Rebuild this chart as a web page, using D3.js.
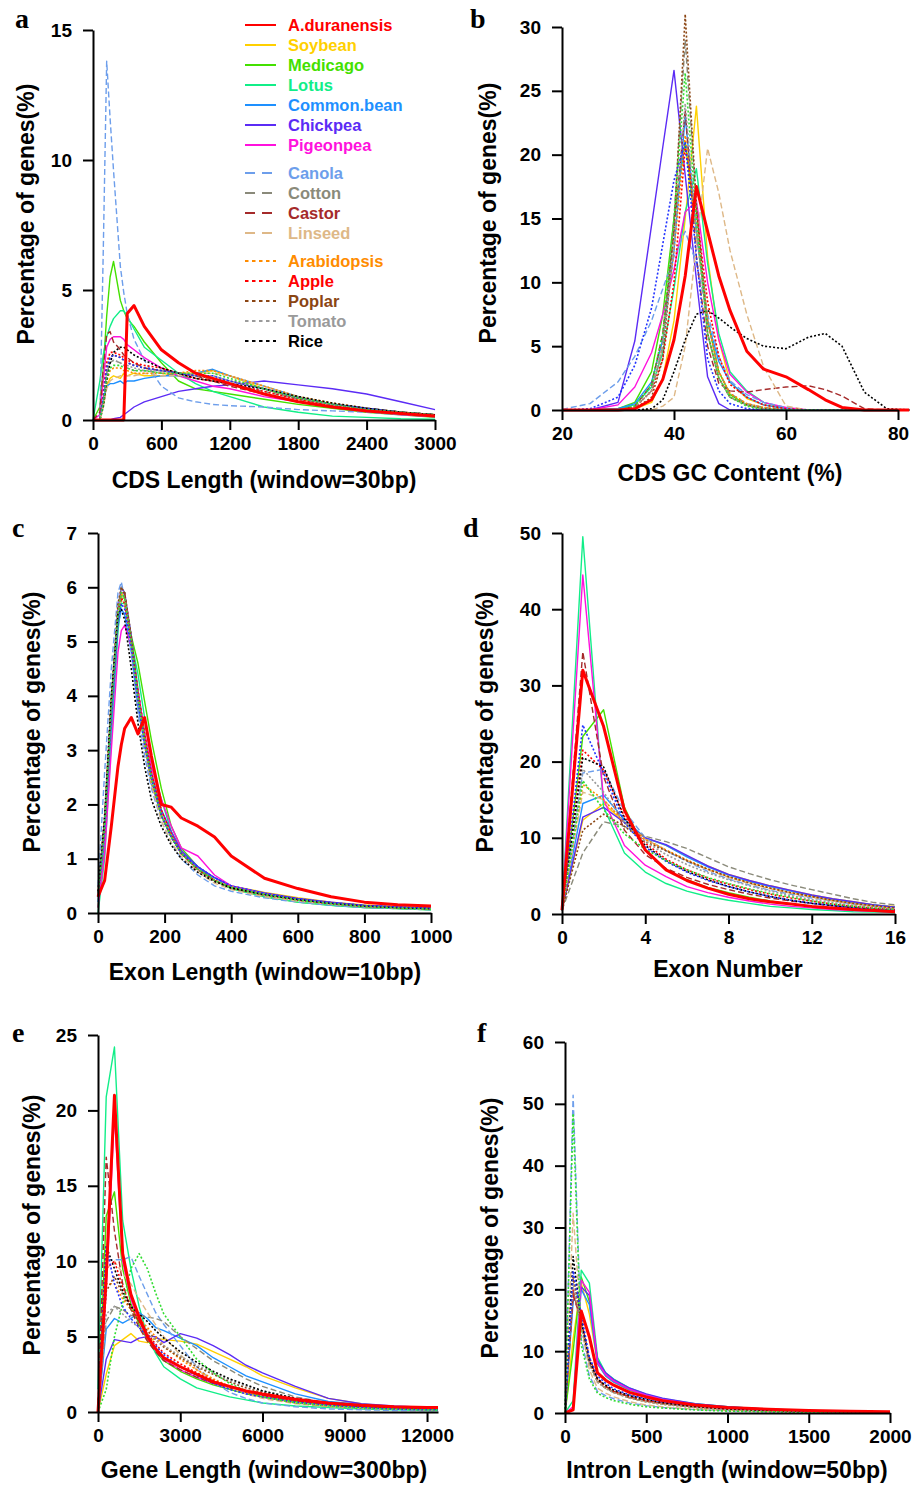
<!DOCTYPE html>
<html>
<head>
<meta charset="utf-8">
<script src="https://cdn.jsdelivr.net/npm/d3@7"></script>
<style>
    body { margin: 0; background: #fff; }
    svg text { font-family: "Liberation Sans", Arial, sans-serif; }
</style>
</head>
<body>
<svg id="chart" width="915" height="1487"></svg>
<script>
(function () {
    'use strict';

    var species = ["A.duranensis", "Soybean", "Medicago", "Lotus", "Common.bean", "Chickpea", "Pigeonpea",
        "Canola", "Cotton", "Castor", "Linseed",
        "Arabidopsis", "Apple", "Poplar", "Tomato", "Rice"];
    // two more dotted curves appear in the plots without a legend entry
    var extraSeries = ["blue dotted", "green dotted"];
    var allSeries = species.concat(extraSeries);
    var seriesColor = ["#ff0000", "#ffd000", "#44e000", "#11ee88", "#1e90ff", "#5b2bf5", "#ff11dd",
        "#6d9eeb", "#8a8a7a", "#a52a2a", "#deb887",
        "#ff8c00", "#ff0000", "#8b4513", "#9a9a9a", "#000000",
        "#2233ff", "#33dd33"];
    var seriesStyle = ["solid", "solid", "solid", "solid", "solid", "solid", "solid",
        "dash", "dash", "dash", "dash",
        "dot", "dot", "dot", "dot", "dot", "dot", "dot"];

    // a: CDS length
    var cdsLenX = [0, 60, 90, 120, 150, 180, 240, 270, 300, 360, 450, 600, 750, 900, 1050, 1200, 1500, 1800, 2100, 2400, 2700, 3000];
    var cdsLenY = [
        [0, 0, 0, 0, 0, 0, 0, 0, 4.1, 4.4, 3.6, 2.7, 2.2, 1.8, 1.6, 1.4, 1.0, 0.7, 0.5, 0.35, 0.25, 0.15],
        [0, 0, 0.6, 1.3, 1.6, 1.7, 1.6, 1.8, 1.7, 1.8, 1.7, 1.7, 1.8, 1.8, 1.9, 1.7, 1.2, 0.8, 0.6, 0.45, 0.3, 0.2],
        [0, 0.5, 2.0, 4.0, 5.5, 6.1, 4.6, 4.2, 3.9, 3.6, 3.0, 2.2, 1.5, 1.2, 1.1, 1.0, 0.8, 0.6, 0.45, 0.3, 0.2, 0.1],
        [0, 1.5, 2.5, 3.2, 3.6, 3.9, 4.2, 4.2, 4.0, 3.5, 2.8, 2.3, 1.8, 1.4, 1.1, 0.9, 0.5, 0.3, 0.15, 0.1, 0.05, 0.03],
        [0, 0, 0.8, 1.3, 1.4, 1.4, 1.5, 1.4, 1.5, 1.5, 1.6, 1.7, 1.7, 1.8, 1.95, 1.7, 1.3, 0.9, 0.6, 0.45, 0.3, 0.2],
        [0, 0, 0, 0, 0, 0.05, 0.1, 0.2, 0.3, 0.5, 0.7, 0.9, 1.1, 1.2, 1.3, 1.35, 1.5, 1.35, 1.2, 1.0, 0.7, 0.4],
        [0, 0.2, 1.5, 2.8, 3.1, 3.2, 3.2, 3.1, 2.9, 2.7, 2.4, 2.0, 1.7, 1.5, 1.3, 1.2, 0.9, 0.7, 0.5, 0.35, 0.2, 0.12],
        [0, 0, 6.5, 13.8, 11.6, 9.6, 5.9, 4.9, 4.1, 3.1, 2.3, 1.3, 0.85, 0.7, 0.6, 0.55, 0.5, 0.4, 0.35, 0.3, 0.2, 0.15],
        [0, 0, 0.8, 1.8, 2.2, 2.3, 2.2, 2.1, 2.0, 1.9, 1.9, 1.8, 1.7, 1.6, 1.5, 1.4, 1.1, 0.8, 0.55, 0.4, 0.3, 0.2],
        [0, 0.3, 2.0, 3.3, 3.4, 3.0, 2.7, 2.5, 2.4, 2.2, 2.0, 1.9, 1.8, 1.7, 1.5, 1.3, 1.0, 0.7, 0.5, 0.35, 0.25, 0.15],
        [0, 0, 0.5, 1.2, 1.5, 1.6, 1.7, 1.7, 1.7, 1.7, 1.8, 1.7, 1.7, 1.8, 1.8, 1.7, 1.3, 0.9, 0.6, 0.45, 0.3, 0.2],
        [0, 0, 0.6, 1.5, 1.9, 2.0, 2.0, 1.9, 1.9, 1.8, 1.8, 1.8, 1.8, 1.9, 1.9, 1.7, 1.3, 0.9, 0.65, 0.45, 0.3, 0.2],
        [0, 0, 1.0, 2.2, 2.6, 2.6, 2.5, 2.4, 2.3, 2.2, 2.1, 2.0, 1.8, 1.6, 1.5, 1.4, 1.1, 0.8, 0.55, 0.4, 0.3, 0.2],
        [0, 0, 0.8, 2.0, 2.4, 2.5, 2.4, 2.3, 2.2, 2.1, 2.0, 1.9, 1.8, 1.7, 1.6, 1.5, 1.2, 0.85, 0.6, 0.45, 0.3, 0.2],
        [0, 0, 0.7, 1.8, 2.2, 2.3, 2.2, 2.1, 2.1, 2.0, 1.9, 1.9, 1.8, 1.7, 1.7, 1.5, 1.2, 0.85, 0.6, 0.45, 0.3, 0.2],
        [0, 0, 0.5, 1.5, 2.2, 2.6, 2.8, 2.8, 2.7, 2.5, 2.3, 2.0, 1.8, 1.6, 1.5, 1.4, 1.2, 0.9, 0.65, 0.45, 0.3, 0.2],
        [0, 0, 0.8, 2.0, 2.4, 2.5, 2.4, 2.3, 2.2, 2.1, 2.0, 1.9, 1.8, 1.7, 1.7, 1.5, 1.2, 0.85, 0.6, 0.45, 0.3, 0.2],
        [0, 0, 0.6, 1.6, 2.0, 2.1, 2.1, 2.0, 2.0, 1.9, 1.9, 1.8, 1.8, 1.8, 1.8, 1.6, 1.2, 0.85, 0.6, 0.4, 0.3, 0.2]
    ];

    // b: CDS GC content
    var gcX = [20, 25, 30, 33, 36, 38, 40, 42, 44, 46, 48, 50, 53, 56, 60, 64, 67, 70, 74, 78, 82];
    var gcY = [
        [0, 0, 0, 0.1, 0.8, 2.4, 5.5, 10.5, 17.5, 14.0, 10.5, 7.8, 4.6, 3.2, 2.6, 1.6, 0.8, 0.2, 0, 0, 0],
        [0, 0, 0, 0.1, 0.6, 2.5, 7, 15, 23.8, 12, 5.5, 2.2, 0.9, 0.4, 0.1, 0, 0, 0, 0, 0, 0],
        [0, 0, 0.1, 0.6, 3, 7.5, 15, 21, 14, 7, 3, 1.2, 0.4, 0.1, 0, 0, 0, 0, 0, 0, 0],
        [0, 0, 0.1, 0.4, 1.8, 4.5, 9.5, 15.5, 18.9, 11.5, 6, 3, 1.5, 0.6, 0.1, 0, 0, 0, 0, 0, 0],
        [0, 0, 0.1, 0.5, 2.2, 5.5, 12.5, 23, 14, 7, 3.8, 2.2, 1, 0.4, 0.1, 0, 0, 0, 0, 0, 0],
        [0, 0, 0.6, 5.4, 14.5, 20.6, 26.6, 18.4, 10.2, 2.6, 0.5, 0, 0, 0, 0, 0, 0, 0, 0, 0, 0],
        [0, 0, 0.4, 1.8, 4.5, 7.5, 11, 15.5, 16.4, 10, 5.5, 2.8, 1.4, 0.6, 0.2, 0, 0, 0, 0, 0, 0],
        [0.05, 0.5, 2.2, 4.2, 7, 9.5, 12, 14, 11.5, 7.5, 4.2, 2.3, 1.2, 0.6, 0.2, 0, 0, 0, 0, 0, 0],
        [0, 0, 0, 0.2, 1.5, 5, 15, 29, 16, 7, 3, 1.3, 0.5, 0.2, 0, 0, 0, 0, 0, 0, 0],
        [0, 0, 0, 0.3, 2, 6, 14, 23.5, 12, 5, 2.1, 1.5, 1.4, 1.6, 1.8, 1.9, 1.6, 1.1, 0.1, 0, 0],
        [0, 0, 0, 0, 0, 0.3, 1, 5, 13, 20.5, 17, 12.5, 7.5, 3.4, 0.3, 0, 0, 0, 0, 0, 0],
        [0, 0, 0, 0.2, 1.5, 5, 12.5, 21.5, 14, 7, 3, 1.3, 0.5, 0.2, 0, 0, 0, 0, 0, 0, 0],
        [0, 0, 0, 0.2, 1.5, 4, 10, 20.5, 15.5, 8.5, 4.2, 2, 1, 0.4, 0.1, 0, 0, 0, 0, 0, 0],
        [0, 0, 0, 0.1, 1, 4, 14, 31, 16, 6, 2.5, 1, 0.4, 0.1, 0, 0, 0, 0, 0, 0, 0],
        [0, 0, 0, 0.2, 1.5, 5, 13, 24, 14, 6, 2.5, 1, 0.4, 0.1, 0, 0, 0, 0, 0, 0, 0],
        [0, 0, 0, 0, 0.1, 0.8, 3, 5.5, 7.5, 7.8, 7.2, 6.5, 5.6, 5.0, 4.8, 5.7, 6.0, 5.0, 1.4, 0.1, 0],
        [0, 0.1, 1, 3.5, 8, 13, 18, 21, 12, 4, 1.5, 0.5, 0.1, 0, 0, 0, 0, 0, 0, 0, 0],
        [0, 0, 0, 0.3, 2, 6, 15, 26.4, 15, 6, 2.5, 1, 0.3, 0, 0, 0, 0, 0, 0, 0, 0]
    ];

    // c: exon length
    var exonLenX = [0, 20, 40, 60, 70, 80, 100, 120, 140, 160, 190, 220, 250, 300, 350, 400, 500, 600, 700, 800, 900, 1000];
    var exonLenY = [
        [0.3, 0.6, 1.6, 2.7, 3.1, 3.4, 3.6, 3.3, 3.6, 2.9, 2.0, 1.95, 1.75, 1.6, 1.4, 1.05, 0.64, 0.45, 0.3, 0.2, 0.15, 0.13],
        [0.3, 1.5, 3.7, 5.4, 5.9, 5.8, 5.0, 4.1, 3.3, 2.6, 1.9, 1.45, 1.15, 0.85, 0.65, 0.5, 0.38, 0.28, 0.2, 0.15, 0.12, 0.1],
        [0.1, 1.2, 3.4, 5.3, 5.8, 5.8, 5.1, 4.6, 3.9, 3.2, 2.3, 1.6, 1.2, 0.85, 0.6, 0.45, 0.3, 0.2, 0.14, 0.1, 0.08, 0.06],
        [0, 1.0, 3.2, 5.2, 5.7, 5.7, 5.0, 4.4, 3.6, 2.8, 2.1, 1.5, 1.15, 0.85, 0.6, 0.45, 0.3, 0.2, 0.14, 0.1, 0.08, 0.06],
        [0.2, 1.4, 3.5, 5.3, 5.6, 5.5, 4.8, 3.8, 3.1, 2.4, 1.8, 1.4, 1.1, 0.85, 0.65, 0.5, 0.36, 0.26, 0.19, 0.14, 0.11, 0.09],
        [0.3, 1.6, 3.8, 5.6, 6.0, 5.9, 5.1, 4.1, 3.3, 2.6, 1.9, 1.5, 1.15, 0.85, 0.65, 0.5, 0.37, 0.27, 0.2, 0.14, 0.11, 0.09],
        [0.1, 1.1, 3.0, 4.8, 5.2, 5.3, 4.9, 4.1, 3.3, 2.7, 2.1, 1.6, 1.2, 1.05, 0.7, 0.5, 0.35, 0.25, 0.18, 0.13, 0.1, 0.08],
        [0.5, 2.6, 4.5, 5.9, 6.1, 5.8, 4.8, 3.7, 2.9, 2.3, 1.7, 1.3, 1.0, 0.7, 0.5, 0.4, 0.28, 0.2, 0.14, 0.1, 0.08, 0.06],
        [0.3, 1.7, 3.9, 5.6, 6.0, 5.9, 5.0, 4.0, 3.2, 2.5, 1.8, 1.4, 1.1, 0.8, 0.6, 0.48, 0.35, 0.25, 0.18, 0.13, 0.1, 0.08],
        [0.3, 1.6, 3.8, 5.5, 5.9, 5.9, 5.0, 4.0, 3.2, 2.5, 1.8, 1.4, 1.1, 0.8, 0.6, 0.47, 0.34, 0.24, 0.17, 0.12, 0.1, 0.08],
        [0.4, 1.8, 3.9, 5.5, 5.8, 5.7, 4.9, 3.9, 3.1, 2.4, 1.7, 1.3, 1.05, 0.75, 0.55, 0.43, 0.3, 0.22, 0.16, 0.12, 0.09, 0.07],
        [0.3, 1.7, 3.9, 5.6, 5.9, 5.8, 5.0, 4.0, 3.1, 2.4, 1.8, 1.4, 1.1, 0.8, 0.6, 0.48, 0.35, 0.25, 0.18, 0.13, 0.1, 0.08],
        [0.3, 1.5, 3.7, 5.4, 5.8, 5.7, 5.0, 4.1, 3.3, 2.6, 1.9, 1.45, 1.1, 0.8, 0.6, 0.46, 0.33, 0.24, 0.17, 0.12, 0.1, 0.08],
        [0.3, 1.7, 3.9, 5.7, 6.0, 5.9, 5.1, 4.0, 3.2, 2.5, 1.8, 1.4, 1.1, 0.8, 0.6, 0.47, 0.34, 0.25, 0.18, 0.13, 0.1, 0.08],
        [0.3, 1.6, 3.8, 5.5, 5.9, 5.8, 5.0, 4.0, 3.2, 2.5, 1.8, 1.4, 1.1, 0.8, 0.6, 0.47, 0.34, 0.24, 0.17, 0.12, 0.1, 0.08],
        [0.4, 1.8, 4.0, 5.5, 5.6, 5.4, 4.5, 3.5, 2.7, 2.1, 1.6, 1.25, 1.0, 0.75, 0.58, 0.46, 0.34, 0.25, 0.18, 0.13, 0.1, 0.08],
        [0.3, 1.6, 3.7, 5.4, 5.7, 5.6, 4.9, 3.9, 3.1, 2.5, 1.8, 1.4, 1.1, 0.85, 0.65, 0.5, 0.36, 0.26, 0.19, 0.14, 0.11, 0.09],
        [0.3, 1.6, 3.8, 5.5, 5.9, 5.8, 5.0, 4.0, 3.2, 2.5, 1.8, 1.4, 1.1, 0.8, 0.6, 0.47, 0.34, 0.24, 0.17, 0.12, 0.09, 0.07]
    ];

    // d: exon number
    var exonNumX = [0, 1, 2, 3, 4, 5, 6, 7, 8, 9, 10, 11, 12, 13, 14, 15, 16];
    var exonNumY = [
        [0.5, 32, 24.6, 13.6, 8.4, 5.8, 4.4, 3.4, 2.6, 2.0, 1.6, 1.3, 1.0, 0.8, 0.6, 0.45, 0.3],
        [0.5, 12.3, 14.5, 12, 10, 9.0, 7.6, 6.3, 5.2, 4.4, 3.7, 3.1, 2.5, 2.0, 1.6, 1.2, 1.0],
        [0.5, 23.3, 26.8, 14, 8.4, 5.8, 4.5, 3.5, 2.8, 2.2, 1.7, 1.3, 1.0, 0.8, 0.6, 0.45, 0.35],
        [0.5, 49.5, 14, 8, 5.5, 4.0, 3.0, 2.3, 1.8, 1.4, 1.0, 0.8, 0.6, 0.45, 0.3, 0.25, 0.2],
        [0.5, 14.5, 15.6, 12.4, 10, 9.0, 7.5, 6.2, 5.1, 4.3, 3.6, 3.0, 2.4, 1.9, 1.5, 1.2, 0.9],
        [0.5, 12.7, 14.0, 12, 10, 9.1, 7.7, 6.3, 5.2, 4.4, 3.7, 3.1, 2.5, 2.0, 1.6, 1.2, 0.9],
        [0.5, 44.5, 15, 9.0, 6.4, 4.9, 3.6, 2.8, 2.2, 1.7, 1.3, 1.0, 0.8, 0.6, 0.45, 0.35, 0.25],
        [0.5, 18.5, 19.0, 13.5, 10, 8.3, 6.9, 5.6, 4.6, 3.8, 3.1, 2.6, 2.1, 1.7, 1.3, 1.0, 0.7],
        [0.5, 8, 12.1, 11.5, 10.2, 9.5, 8.6, 7.4, 6.2, 5.3, 4.5, 3.8, 3.2, 2.6, 2.0, 1.5, 1.2],
        [0.5, 34.4, 18, 11, 7.8, 6.0, 4.8, 3.9, 3.2, 2.6, 2.1, 1.7, 1.4, 1.1, 0.85, 0.65, 0.5],
        [0.5, 16, 15, 12, 9.8, 8.4, 7.0, 5.8, 4.8, 4.0, 3.3, 2.7, 2.2, 1.7, 1.3, 1.0, 0.7],
        [0.5, 17, 15, 12, 9.8, 8.4, 7.1, 5.9, 4.9, 4.1, 3.4, 2.8, 2.3, 1.8, 1.4, 1.0, 0.7],
        [0.5, 21.5, 18.9, 12.8, 9.3, 7.2, 5.8, 4.7, 3.9, 3.2, 2.6, 2.1, 1.7, 1.3, 1.0, 0.75, 0.55],
        [0.5, 11, 13.1, 11.5, 9.5, 8.3, 7.0, 5.9, 4.9, 4.1, 3.4, 2.8, 2.3, 1.8, 1.4, 1.1, 0.8],
        [0.5, 19, 16, 12, 9.5, 7.8, 6.5, 5.4, 4.5, 3.7, 3.0, 2.4, 1.9, 1.5, 1.1, 0.8, 0.6],
        [0.5, 20.5, 19.3, 12.5, 9.0, 7.0, 5.6, 4.5, 3.6, 2.9, 2.3, 1.8, 1.4, 1.1, 0.8, 0.6, 0.45],
        [0.5, 24.8, 18.5, 12, 8.8, 6.9, 5.5, 4.4, 3.6, 2.9, 2.3, 1.8, 1.4, 1.1, 0.8, 0.6, 0.45],
        [0.5, 17.5, 13.7, 10.5, 8.5, 7.0, 5.8, 4.8, 4.0, 3.3, 2.7, 2.2, 1.7, 1.3, 1.0, 0.75, 0.55]
    ];

    // e: gene length
    var geneLenX = [0, 300, 600, 900, 1200, 1500, 1800, 2100, 2400, 3000, 3600, 4200, 4800, 5400, 6000, 7200, 8400, 9600, 10800, 12000, 12400];
    var geneLenY = [
        [0, 9, 21, 10.5, 7.8, 6.3, 5.0, 4.2, 3.6, 3.0, 2.5, 2.0, 1.7, 1.4, 1.2, 0.85, 0.6, 0.45, 0.35, 0.3, 0.3],
        [0, 2.5, 4.4, 4.8, 5.2, 4.7, 4.6, 4.9, 4.8, 4.7, 4.5, 4.0, 3.5, 3.0, 2.4, 1.6, 0.9, 0.55, 0.35, 0.25, 0.2],
        [0, 13, 14.6, 9.5, 7.2, 5.8, 4.8, 4.0, 3.4, 2.7, 2.2, 1.8, 1.5, 1.2, 1.0, 0.7, 0.5, 0.35, 0.25, 0.2, 0.2],
        [1.5, 20.9, 24.2, 12.7, 9.5, 7.0, 5.0, 3.9, 3.0, 2.2, 1.6, 1.3, 1.0, 0.8, 0.6, 0.4, 0.3, 0.2, 0.15, 0.1, 0.1],
        [0, 5.5, 6.2, 5.9, 6.2, 6.6, 6.2, 5.6, 5.4, 4.9, 4.4, 3.6, 3.0, 2.4, 2.0, 1.2, 0.7, 0.5, 0.35, 0.3, 0.25],
        [0, 3.5, 4.8, 4.7, 4.6, 4.9, 5.0, 5.0, 4.6, 5.2, 4.9, 4.4, 3.8, 3.1, 2.6, 1.7, 0.9, 0.55, 0.4, 0.3, 0.3],
        [0, 8, 19.8, 10, 7.5, 6.0, 4.9, 4.1, 3.5, 2.8, 2.3, 1.9, 1.6, 1.3, 1.1, 0.8, 0.55, 0.4, 0.3, 0.25, 0.25],
        [0, 10.1, 10.1, 10.1, 10.3, 9.0, 7.8, 6.6, 5.8, 4.4, 3.0, 2.0, 1.3, 0.9, 0.6, 0.35, 0.2, 0.15, 0.1, 0.1, 0.1],
        [0, 6.0, 7.0, 6.8, 6.4, 6.4, 6.3, 6.2, 6.0, 5.0, 4.2, 3.4, 2.8, 2.2, 1.7, 1.0, 0.6, 0.4, 0.3, 0.2, 0.2],
        [0, 16.9, 12, 8.5, 6.8, 5.6, 4.7, 4.0, 3.4, 2.8, 2.3, 1.9, 1.6, 1.3, 1.1, 0.75, 0.5, 0.35, 0.25, 0.2, 0.2],
        [0, 9.5, 10, 9.2, 8.5, 7.5, 6.6, 5.8, 5.0, 3.8, 2.8, 2.1, 1.6, 1.2, 0.9, 0.55, 0.35, 0.25, 0.2, 0.15, 0.15],
        [0, 8.5, 8.5, 7.5, 6.8, 6.2, 5.6, 5.0, 4.4, 3.5, 2.8, 2.2, 1.7, 1.3, 1.0, 0.6, 0.4, 0.3, 0.2, 0.15, 0.15],
        [0, 9.5, 10, 8.3, 7.0, 6.0, 5.2, 4.5, 3.9, 3.2, 2.6, 2.1, 1.7, 1.4, 1.1, 0.75, 0.5, 0.35, 0.25, 0.2, 0.2],
        [0, 8.0, 9.0, 7.8, 6.8, 6.0, 5.4, 4.8, 4.3, 3.6, 3.0, 2.5, 2.0, 1.6, 1.3, 0.85, 0.55, 0.4, 0.3, 0.2, 0.2],
        [0, 6.5, 7.0, 6.5, 6.0, 5.6, 5.2, 4.8, 4.4, 3.7, 3.1, 2.6, 2.1, 1.7, 1.4, 0.9, 0.6, 0.4, 0.3, 0.2, 0.2],
        [0, 11, 9.5, 8.0, 7.0, 6.5, 6.0, 5.4, 4.9, 4.0, 3.3, 2.7, 2.2, 1.8, 1.4, 0.9, 0.6, 0.4, 0.3, 0.25, 0.2],
        [0, 11, 8.5, 7.0, 6.2, 5.6, 5.0, 4.4, 3.8, 3.0, 2.4, 1.9, 1.5, 1.2, 1.0, 0.65, 0.45, 0.3, 0.2, 0.15, 0.15],
        [0, 1.5, 5.0, 7.2, 9.5, 10.5, 9.5, 7.9, 6.5, 5.0, 3.5, 2.6, 1.9, 1.4, 1.0, 0.6, 0.4, 0.25, 0.2, 0.15, 0.15]
    ];

    // f: intron length
    var intronLenX = [0, 50, 100, 150, 200, 250, 300, 400, 500, 600, 800, 1000, 1250, 1500, 1750, 2000];
    var intronLenY = [
        [0, 0.5, 16.5, 12.3, 6.5, 5.3, 4.5, 3.3, 2.6, 2.0, 1.3, 0.9, 0.6, 0.4, 0.3, 0.2],
        [0, 12, 21, 16, 8, 6, 5, 3.6, 2.8, 2.2, 1.4, 0.9, 0.55, 0.35, 0.25, 0.15],
        [0, 10, 22, 18, 8.5, 6.2, 5.2, 3.8, 2.9, 2.2, 1.4, 0.9, 0.55, 0.35, 0.25, 0.15],
        [0, 2, 23.1, 21, 9, 6.5, 5.5, 4.0, 3.0, 2.3, 1.5, 1.0, 0.6, 0.4, 0.25, 0.15],
        [0, 18, 20, 17.5, 8.0, 6.0, 5.0, 3.7, 2.9, 2.2, 1.4, 0.9, 0.55, 0.35, 0.25, 0.15],
        [0, 0.5, 20.4, 19, 8.5, 6.5, 5.4, 4.0, 3.1, 2.4, 1.5, 1.0, 0.6, 0.4, 0.25, 0.15],
        [0, 1, 21.5, 19.5, 8.2, 6.2, 5.2, 3.8, 2.9, 2.2, 1.4, 0.9, 0.55, 0.35, 0.25, 0.15],
        [0, 51.4, 12, 6, 3.5, 2.8, 2.3, 1.6, 1.2, 0.9, 0.55, 0.35, 0.2, 0.15, 0.1, 0.1],
        [0, 20, 14, 8, 5.0, 4.0, 3.3, 2.4, 1.9, 1.5, 0.9, 0.6, 0.35, 0.25, 0.15, 0.1],
        [0, 19, 15, 9, 5.5, 4.3, 3.5, 2.6, 2.0, 1.6, 1.0, 0.65, 0.4, 0.25, 0.15, 0.1],
        [0, 32.3, 14, 7, 4.0, 3.2, 2.6, 1.8, 1.3, 1.0, 0.6, 0.4, 0.25, 0.15, 0.1, 0.1],
        [0, 22, 14, 8, 5.0, 4.0, 3.3, 2.4, 1.8, 1.4, 0.9, 0.55, 0.35, 0.2, 0.15, 0.1],
        [0, 20, 14.5, 8.5, 5.5, 4.3, 3.5, 2.6, 2.0, 1.6, 1.0, 0.65, 0.4, 0.25, 0.15, 0.1],
        [0, 22, 15, 8.5, 5.3, 4.2, 3.4, 2.5, 1.9, 1.5, 0.95, 0.6, 0.35, 0.25, 0.15, 0.1],
        [0, 21, 14, 8, 5.0, 4.0, 3.3, 2.4, 1.8, 1.4, 0.9, 0.55, 0.35, 0.2, 0.15, 0.1],
        [0, 25.3, 15, 8.5, 5.5, 4.5, 3.7, 2.8, 2.2, 1.7, 1.1, 0.7, 0.45, 0.3, 0.2, 0.15],
        [0, 23, 16, 9, 6.0, 4.8, 3.9, 2.9, 2.3, 1.8, 1.2, 0.8, 0.5, 0.3, 0.2, 0.15],
        [0, 48.4, 11, 5.5, 3.2, 2.5, 2.0, 1.4, 1.0, 0.8, 0.5, 0.3, 0.2, 0.1, 0.1, 0.1]
    ];

    var panels = [
        {letter: "a", letterPos: [15, 28], xs: cdsLenX, ys: cdsLenY,
            xDomain: [0, 3000], xRange: [93, 435], xTicks: [0, 600, 1200, 1800, 2400, 3000],
            yDomain: [0, 15], yRange: [420, 30], yTicks: [0, 5, 10, 15],
            xTitle: "CDS Length (window=30bp)", xTitlePos: [264, 488], yTitlePos: [34, 214]},
        {letter: "b", letterPos: [470, 28], xs: gcX, ys: gcY,
            xDomain: [20, 80], xRange: [562, 898], xTicks: [20, 40, 60, 80],
            yDomain: [0, 30], yRange: [410, 27], yTicks: [0, 5, 10, 15, 20, 25, 30],
            xTitle: "CDS GC Content (%)", xTitlePos: [730, 481], yTitlePos: [496, 213]},
        {letter: "c", letterPos: [12, 537], xs: exonLenX, ys: exonLenY,
            xDomain: [0, 1000], xRange: [98, 431], xTicks: [0, 200, 400, 600, 800, 1000],
            yDomain: [0, 7], yRange: [913, 533], yTicks: [0, 1, 2, 3, 4, 5, 6, 7],
            xTitle: "Exon Length (window=10bp)", xTitlePos: [265, 980], yTitlePos: [40, 722]},
        {letter: "d", letterPos: [463, 537], xs: exonNumX, ys: exonNumY,
            xDomain: [0, 16], xRange: [562, 895], xTicks: [0, 4, 8, 12, 16],
            yDomain: [0, 50], yRange: [914, 533], yTicks: [0, 10, 20, 30, 40, 50],
            xTitle: "Exon Number", xTitlePos: [728, 977], yTitlePos: [493, 722]},
        {letter: "e", letterPos: [12, 1042], xs: geneLenX, ys: geneLenY,
            xDomain: [0, 12400], xRange: [98, 438], xTicks: [0, 3000, 6000, 9000, 12000],
            yDomain: [0, 25], yRange: [1412, 1035], yTicks: [0, 5, 10, 15, 20, 25],
            xTitle: "Gene Length (window=300bp)", xTitlePos: [264, 1478], yTitlePos: [40, 1225]},
        {letter: "f", letterPos: [477, 1042], xs: intronLenX, ys: intronLenY,
            xDomain: [0, 2000], xRange: [565, 890], xTicks: [0, 500, 1000, 1500, 2000],
            yDomain: [0, 60], yRange: [1413, 1042], yTicks: [0, 10, 20, 30, 40, 50, 60],
            xTitle: "Intron Length (window=50bp)", xTitlePos: [727, 1478], yTitlePos: [498, 1228]}
    ];

    var svg = d3.select("#chart");

    function dashFor(style, legend) {
        if (style === "dash") {
            return legend ? "10,7" : "6,3";
        }
        if (style === "dot") {
            return legend ? "3.5,3.5" : "2,2";
        }
        return null;
    }

    function styleAxis(axisG) {
        axisG.select(".domain").attr("stroke", "#000").attr("stroke-width", 2);
        axisG.selectAll(".tick line").attr("stroke", "#000").attr("stroke-width", 2);
        axisG.selectAll(".tick text")
            .attr("fill", "#000")
            .style("font-size", "19px")
            .style("font-weight", "bold");
    }

    function drawPanel(p) {
        var g = svg.append("g").attr("class", "panel-" + p.letter),
            x = d3.scaleLinear().domain(p.xDomain).range(p.xRange),
            y = d3.scaleLinear().domain(p.yDomain).range(p.yRange),
            order = d3.range(1, allSeries.length).concat([0]),
            line = d3.line()
                .x(function (v, i) { return x(p.xs[i]); })
                .y(function (v) { return y(v); }),
            xAxisG, yAxisG;

        order.forEach(function (k) {
            g.append("path")
                .datum(p.ys[k])
                .attr("d", line)
                .attr("fill", "none")
                .attr("stroke", seriesColor[k])
                .attr("stroke-width", k === 0 ? 3 : (seriesStyle[k] === "dot" ? 1.6 : 1.4))
                .attr("stroke-dasharray", dashFor(seriesStyle[k], false))
                .attr("stroke-linejoin", "round");
        });

        xAxisG = g.append("g")
            .attr("transform", "translate(0," + p.yRange[0] + ")")
            .call(d3.axisBottom(x).tickValues(p.xTicks).tickSize(10).tickSizeOuter(0)
                .tickPadding(7).tickFormat(d3.format("d")));
        styleAxis(xAxisG);

        yAxisG = g.append("g")
            .attr("transform", "translate(" + p.xRange[0] + ",0)")
            .call(d3.axisLeft(y).tickValues(p.yTicks).tickSize(10).tickSizeOuter(0)
                .tickPadding(11).tickFormat(d3.format("d")));
        styleAxis(yAxisG);

        g.append("text")
            .attr("x", p.xTitlePos[0])
            .attr("y", p.xTitlePos[1])
            .attr("text-anchor", "middle")
            .style("font-size", "23px")
            .style("font-weight", "bold")
            .text(p.xTitle);

        g.append("text")
            .attr("transform", "translate(" + p.yTitlePos[0] + "," + p.yTitlePos[1] + ") rotate(-90)")
            .attr("text-anchor", "middle")
            .style("font-size", "23px")
            .style("font-weight", "bold")
            .text("Percentage of genes(%)");

        g.append("text")
            .attr("x", p.letterPos[0])
            .attr("y", p.letterPos[1])
            .style("font-family", "'Liberation Serif', 'Times New Roman', serif")
            .style("font-size", "28px")
            .style("font-weight", "bold")
            .text(p.letter);
    }

    function drawLegend() {
        var legend = svg.append("g").attr("class", "legend");
        species.forEach(function (name, i) {
            var group = i < 7 ? 0 : (i < 11 ? 1 : 2),
                rowY = 25 + 20 * i + 8 * group;
            legend.append("line")
                .attr("x1", 245).attr("x2", 276)
                .attr("y1", rowY).attr("y2", rowY)
                .attr("stroke", seriesColor[i])
                .attr("stroke-width", 2)
                .attr("stroke-dasharray", dashFor(seriesStyle[i], true));
            legend.append("text")
                .attr("x", 288)
                .attr("y", rowY + 6)
                .attr("fill", seriesColor[i])
                .style("font-size", "16.5px")
                .style("font-weight", "bold")
                .text(name);
        });
    }

    panels.forEach(drawPanel);
    drawLegend();
}());
</script>
</body>
</html>
